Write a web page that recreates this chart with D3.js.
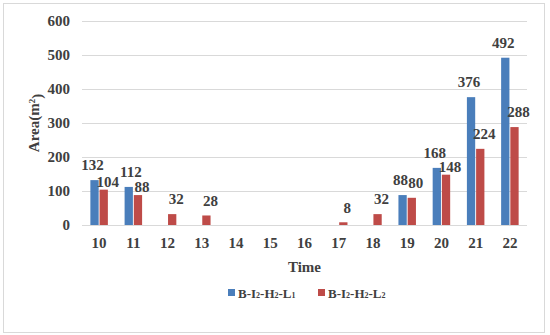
<!DOCTYPE html>
<html><head><meta charset="utf-8">
<script src="https://cdn.jsdelivr.net/npm/d3@7"></script>
<style>body{margin:0;background:#fff}svg{display:block}</style>
</head><body><svg id="c" width="550" height="335"></svg>
<script>
const categories = ["10","11","12","13","14","15","16","17","18","19","20","21","22"];
const seriesNames = ["L1","L2"];
const seriesL1 = [132,112,0,0,0,0,0,0,0,88,168,376,492];
const seriesL2 = [104,88,32,28,0,0,0,8,32,80,148,224,288];
const yTicks = [0,100,200,300,400,500,600];
const colors = ["#4A7EBB","#BE4B48"];

(function(){
const FONT = "'Liberation Serif', 'Times New Roman', Times, serif";
const svg = d3.select("#c");
svg.append("rect").attr("x",3.5).attr("y",3.5).attr("width",541).attr("height",329)
  .attr("fill","#fff").attr("stroke","#d9d9d9");

const pL=82,pR=527,pT=21,pB=225;
const x = d3.scaleBand().domain(categories).range([pL,pR]).padding(0);
const bw = x.bandwidth();
const x1 = d3.scaleBand().domain(seriesNames).range([bw/2-8.75,bw/2+8.75]).paddingInner(0.1);
const y = d3.scaleLinear().domain([0,600]).range([pB,pT]);

svg.append("g").selectAll("line").data(yTicks).join("line")
  .attr("x1",pL).attr("x2",pR).attr("y1",d=>y(d)+0.5).attr("y2",d=>y(d)+0.5)
  .attr("stroke","#d9d9d9").attr("stroke-width",1);

const ya = svg.append("g").attr("transform",`translate(${pL-12},0)`)
  .call(d3.axisLeft(y).tickValues(yTicks).tickSize(0).tickPadding(0));
ya.select(".domain").remove();

const xa = svg.append("g").attr("transform",`translate(0,${pB})`)
  .call(d3.axisBottom(x).tickSize(0).tickPadding(12));
xa.select(".domain").remove();
[ya,xa].forEach(a=>a.attr("font-family",null).attr("font-size",null).selectAll("text").style("font-size","15px"));

const data = [seriesL1, seriesL2];
const bars = [];
data.forEach((vals,si)=>{
  vals.forEach((v,i)=>{ if(v>0) bars.push({s:si,ci:i,cat:categories[i],v:v}); });
});
svg.append("g").selectAll("rect").data(bars).join("rect")
  .attr("x",d=>x(d.cat)+x1(seriesNames[d.s]))
  .attr("width",x1.bandwidth())
  .attr("y",d=>y(d.v)).attr("height",d=>y(0)-y(d.v))
  .attr("fill",d=>colors[d.s]);

// data labels, greedy de-overlap
const lbls = bars.map(d=>{
  const cx = x(d.cat)+x1(seriesNames[d.s])+x1.bandwidth()/2;
  return {d, cx: cx + (d.s===0 ? -2 : 4), cy: y(d.v)-15, lowered:false};
}).sort((a,b)=>a.d.ci-b.d.ci || a.d.s-b.d.s);
const lt = svg.append("g").selectAll("text").data(lbls).join("text")
  .attr("text-anchor","middle").attr("dy","0.35em").style("font-size","15px")
  .style("font-family",FONT).style("font-weight","bold")
  .text(l=>l.d.v);
lt.each(function(l){ l.w = this.getComputedTextLength(); });
const placed = [];
const H = 13;
lbls.forEach(l=>{
  for(let iter=0; iter<10; iter++){
    const hit = placed.find(p=>Math.abs(p.cy-l.cy)<H && Math.abs(p.cx-l.cx)<(p.w+l.w)/2);
    if(!hit) break;
    if(l.d.s===1 && !l.lowered){ l.cy += 7; l.lowered=true; }
    else { l.cx = hit.cx + (hit.w+l.w)/2 + 1; }
  }
  placed.push(l);
});
lt.attr("x",l=>l.cx).attr("y",l=>l.cy);

svg.append("text").attr("x",(pL+pR)/2).attr("y",267).attr("dy","0.35em")
  .attr("text-anchor","middle").style("font-size","15px").text("Time");
const yt = svg.append("text").attr("transform",`translate(34,${(pT+pB)/2}) rotate(-90)`)
  .attr("text-anchor","middle").attr("dy","0.35em").style("font-size","15px");
yt.append("tspan").text("Area(m");
yt.append("tspan").style("font-size","9px").attr("dy","-0.5em").text("2");
yt.append("tspan").attr("dy","0.5em").text(")");

const legendItems = [{s:0,sub:["2","2","1"]},{s:1,sub:["2","2","2"]}];
const lx = [228,318];
legendItems.forEach((it,k)=>{
  const g = svg.append("g").attr("transform",`translate(${lx[k]},293)`);
  g.append("rect").attr("x",0).attr("y",-4).attr("width",7).attr("height",7).attr("fill",colors[it.s]);
  const t = g.append("text").attr("x",10).attr("dy","0.35em").style("font-size","13px");
  t.append("tspan").text("B-I");
  t.append("tspan").style("font-size","8px").text(it.sub[0]);
  t.append("tspan").text("-H");
  t.append("tspan").style("font-size","8px").text(it.sub[1]);
  t.append("tspan").text("-L");
  t.append("tspan").style("font-size","8px").text(it.sub[2]);
});
svg.selectAll("text").style("font-family",FONT).style("font-weight","bold").attr("fill","#404040");
})();
</script></body></html>
